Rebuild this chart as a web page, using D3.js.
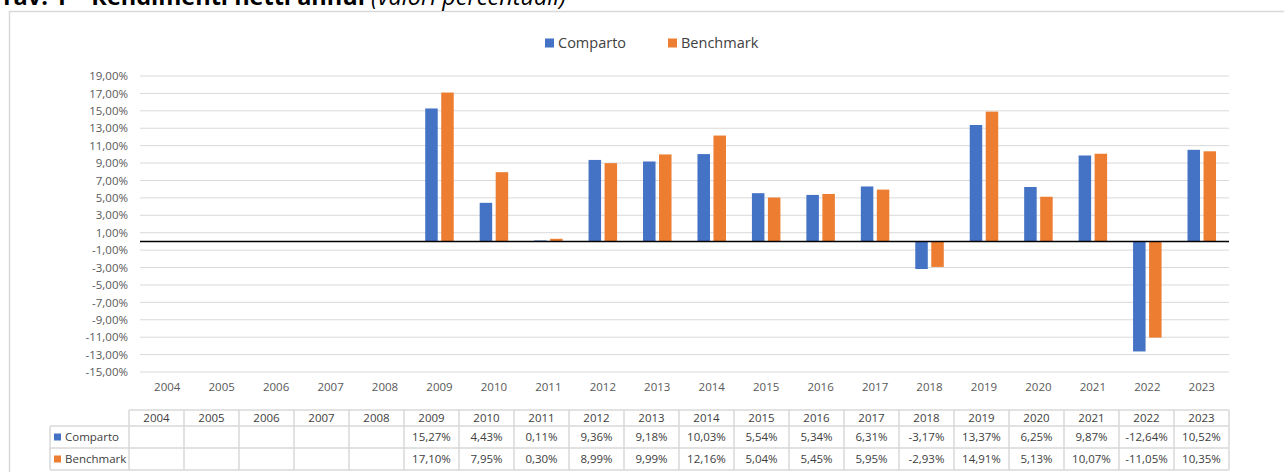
<!DOCTYPE html>
<html><head><meta charset="utf-8">
<script src="https://cdn.jsdelivr.net/npm/d3@7/dist/d3.min.js"></script>
<style>
html,body{margin:0;padding:0;background:#fff;overflow:hidden;}
svg{display:block;font-family:"Open Sans","Noto Sans",sans-serif;}
</style></head>
<body>
<svg id="chart" width="1284" height="472"></svg>
<script>
const years = ["2004","2005","2006","2007","2008","2009","2010","2011","2012","2013","2014","2015","2016","2017","2018","2019","2020","2021","2022","2023"];
const seriesNames = ["Comparto","Benchmark"];
const comparto = [null,null,null,null,null,15.27,4.43,0.11,9.36,9.18,10.03,5.54,5.34,6.31,-3.17,13.37,6.25,9.87,-12.64,10.52];
const benchmark = [null,null,null,null,null,17.10,7.95,0.30,8.99,9.99,12.16,5.04,5.45,5.95,-2.93,14.91,5.13,10.07,-11.05,10.35];
const yTicks = [-15,-13,-11,-9,-7,-5,-3,-1,1,3,5,7,9,11,13,15,17,19];
const colors = ["#4472C4","#ED7D31"];

const locale = d3.formatLocale({decimal:",", thousands:".", grouping:[3], currency:["","€"], minus:"-"});
const fmt = v => locale.format(".2f")(v) + "%";

const svg = d3.select("#chart");
const plot = {left:140, right:1229, top:76, bottom:372};

// Outer frame
svg.append("rect").attr("x",9.5).attr("y",11.5).attr("width",1290).attr("height",480)
  .attr("fill","none").attr("stroke","#d9d9d9").attr("stroke-width",1.5);

// Title (partially cut at top, as in the reference)
const title = svg.append("text").attr("x",0).attr("y",5).attr("font-size",23.5).attr("fill","#000");
title.append("tspan").attr("font-weight","bold").text("Tav. 1 – Rendimenti netti annui ");
title.append("tspan").attr("font-style","italic").text("(valori percentuali)");

const x = d3.scaleBand().domain(years).range([plot.left, plot.right]).paddingInner(0).paddingOuter(0);
const bw = x.bandwidth();
const xs = d3.scaleBand().domain(seriesNames).range([bw/2-14.25, bw/2+14.25]).paddingInner(0.21875).paddingOuter(0);
const y = d3.scaleLinear().domain([-15,19]).range([plot.bottom, plot.top]);

// gridlines
svg.append("g").selectAll("line").data(yTicks).join("line")
  .attr("x1",plot.left).attr("x2",plot.right)
  .attr("y1",d=>y(d)).attr("y2",d=>y(d))
  .attr("stroke","#d9d9d9").attr("stroke-width",1);

// y axis labels
const yAxis = d3.axisLeft(y).tickValues(yTicks).tickFormat(fmt).tickSize(0).tickPadding(0);
const gy = svg.append("g").attr("transform",`translate(${plot.left-12},0)`).call(yAxis);
gy.select(".domain").remove();
gy.selectAll("text").attr("font-size",11.5).attr("fill","#595959").attr("font-family","'Open Sans',sans-serif");

// x axis labels
const xAxis = d3.axisBottom(x).tickSize(0).tickPadding(0);
const gx = svg.append("g").attr("transform",`translate(0,${plot.bottom+11})`).call(xAxis);
gx.select(".domain").remove();
gx.selectAll("text").attr("font-size",11.5).attr("fill","#595959").attr("font-family","'Open Sans',sans-serif");

// bars
const data = [comparto, benchmark];
data.forEach((vals, si) => {
  svg.append("g").selectAll("rect")
    .data(years.map((yr,i)=>({yr, v:vals[i]})).filter(d=>d.v!==null))
    .join("rect")
    .attr("x", d=>x(d.yr)+xs(seriesNames[si]))
    .attr("width", xs.bandwidth())
    .attr("y", d=>y(Math.max(0,d.v)))
    .attr("height", d=>Math.abs(y(d.v)-y(0)))
    .attr("fill", colors[si]);
});

// zero line
svg.append("line").attr("x1",plot.left).attr("x2",plot.right)
  .attr("y1",y(0)).attr("y2",y(0)).attr("stroke","#000").attr("stroke-width",1.5);

// legend
const legend = svg.append("g").attr("transform","translate(545,43)");
const legX = [0, 123];
seriesNames.forEach((s,i)=>{
  const g = legend.append("g").attr("transform",`translate(${legX[i]},0)`);
  g.append("rect").attr("x",0).attr("y",-4.5).attr("width",9).attr("height",9).attr("fill",colors[i]);
  g.append("text").attr("x",13).attr("y",0).attr("dy","0.35em").attr("font-size",14.5).attr("fill","#404040").text(s);
});

// data table
const tbl = {left:129, labelLeft:50, right:1229, rows:[410,426,448,470]};
const xt = d3.scaleBand().domain(years).range([tbl.left, tbl.right]);
const tg = svg.append("g");
const gridC = "#d9d9d9";
tbl.rows.forEach((ry,ri)=>{
  tg.append("line").attr("x1", ri===0 ? tbl.left : tbl.labelLeft).attr("x2",tbl.right)
    .attr("y1",ry).attr("y2",ry).attr("stroke",gridC).attr("stroke-width",1.5);
});
const vx = [tbl.left, ...years.map(yr=>xt(yr)+xt.bandwidth())];
vx.forEach(v=>{
  tg.append("line").attr("x1",v).attr("x2",v).attr("y1",tbl.rows[0]).attr("y2",tbl.rows[3])
    .attr("stroke",gridC).attr("stroke-width",1.5);
});
tg.append("line").attr("x1",tbl.labelLeft).attr("x2",tbl.labelLeft).attr("y1",tbl.rows[1]).attr("y2",tbl.rows[3])
  .attr("stroke",gridC).attr("stroke-width",1.5);
tg.append("g").selectAll("text").data(years).join("text")
  .attr("x",d=>xt(d)+xt.bandwidth()/2).attr("y",(tbl.rows[0]+tbl.rows[1])/2).attr("dy","0.35em")
  .attr("text-anchor","middle").attr("font-size",11.5).attr("fill","#404040").text(d=>d);
data.forEach((vals,si)=>{
  const cy = (tbl.rows[si+1]+tbl.rows[si+2])/2;
  tg.append("rect").attr("x",tbl.labelLeft+4).attr("y",cy-3.5).attr("width",7).attr("height",7).attr("fill",colors[si]);
  tg.append("text").attr("x",tbl.labelLeft+15).attr("y",cy).attr("dy","0.35em").attr("font-size",11.5).attr("fill","#404040").text(seriesNames[si]);
  tg.append("g").selectAll("text").data(years.map((yr,i)=>({yr,v:vals[i]})).filter(d=>d.v!==null)).join("text")
    .attr("x",d=>xt(d.yr)+xt.bandwidth()/2).attr("y",cy).attr("dy","0.35em")
    .attr("text-anchor","middle").attr("font-size",11.5).attr("fill","#404040").text(d=>fmt(d.v));
});
</script>
</body></html>
